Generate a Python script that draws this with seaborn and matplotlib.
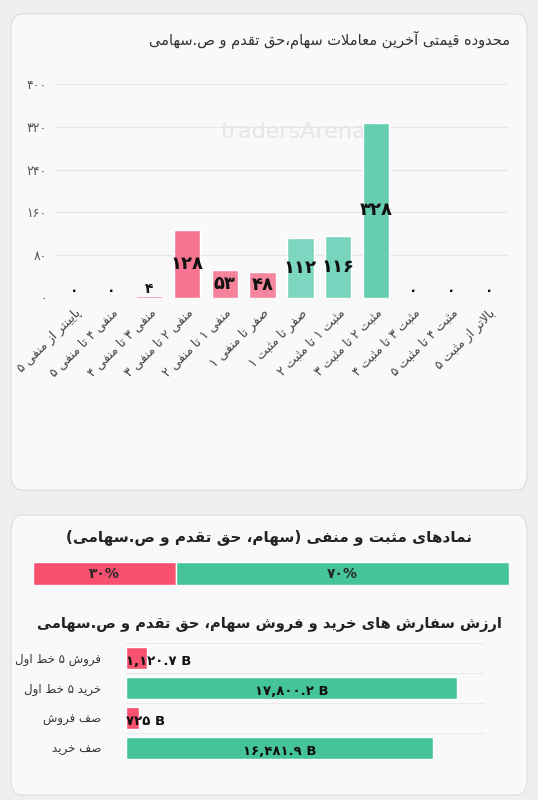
import re
import matplotlib
matplotlib.use("Agg")
import matplotlib.pyplot as plt
from matplotlib.patches import FancyBboxPatch
import seaborn as sns
import pandas as pd

# ---- data ----
range_labels = ["پایینتر از منفی ۵", "منفی ۴ تا منفی ۵", "منفی ۳ تا منفی ۴", "منفی ۲ تا منفی ۳",
                "منفی ۱ تا منفی ۲", "صفر تا منفی ۱", "صفر تا مثبت ۱", "مثبت ۱ تا مثبت ۲",
                "مثبت ۲ تا مثبت ۳", "مثبت ۳ تا مثبت ۴", "مثبت ۴ تا مثبت ۵", "بالاتر از مثبت ۵"]
range_counts = [0, 0, 4, 128, 53, 48, 112, 116, 328, 0, 0, 0]
range_colors = ["#f7728f", "#f7728f", "#f7728f", "#f87591", "#f5839c", "#f5869e",
                "#7dd6bf", "#78d4bc", "#66ceb0", "#66ceb0", "#66ceb0", "#66ceb0"]
y_ticks = [0, 80, 160, 240, 320, 400]

split_labels = ["۳۰%", "۷۰%"]
split_values = [30, 70]

order_labels = ["فروش ۵ خط اول", "خرید ۵ خط اول", "صف فروش", "صف خرید"]
order_values = [1120.7, 17800.2, 725, 16481.9]
order_texts = ["۱,۱۲۰.۷ B", "۱۷,۸۰۰.۲ B", "۷۲۵ B", "۱۶,۴۸۱.۹ B"]
order_colors = ["#f8506f", "#45c49c", "#f8506f", "#45c49c"]

title1 = "محدوده قیمتی آخرین معاملات سهام،حق تقدم و ص.سهامی"
title2 = "نمادهای مثبت و منفی (سهام، حق تقدم و ص.سهامی)"
title3 = "ارزش سفارش های خرید و فروش سهام، حق تقدم و ص.سهامی"

# ---- minimal Persian shaping (matplotlib has no RTL shaping) ----
FORMS = {
    "ا": (0xFE8D, 0xFE8E), "آ": (0xFE81, 0xFE82), "د": (0xFEA9, 0xFEAA), "ذ": (0xFEAB, 0xFEAC),
    "ر": (0xFEAD, 0xFEAE), "ز": (0xFEAF, 0xFEB0), "ژ": (0xFB8A, 0xFB8B), "و": (0xFEED, 0xFEEE),
    "ب": (0xFE8F,), "پ": (0xFB56,), "ت": (0xFE95,), "ث": (0xFE99,), "ج": (0xFE9D,), "چ": (0xFB7A,),
    "ح": (0xFEA1,), "خ": (0xFEA5,), "س": (0xFEB1,), "ش": (0xFEB5,), "ص": (0xFEB9,), "ض": (0xFEBD,),
    "ط": (0xFEC1,), "ظ": (0xFEC5,), "ع": (0xFEC9,), "غ": (0xFECD,), "ف": (0xFED1,), "ق": (0xFED5,),
    "ک": (0xFB8E,), "گ": (0xFB92,), "ل": (0xFEDD,), "م": (0xFEE1,), "ن": (0xFEE5,), "ه": (0xFEE9,),
    "ی": (0xFBFC,),
}


def dual(c):
    return c in FORMS and len(FORMS[c]) == 1


def shape(text):
    out = []
    chars = list(text)
    i = 0
    while i < len(chars):
        c = chars[i]
        if c not in FORMS:
            out.append(c)
            i += 1
            continue
        prev_join = i > 0 and dual(chars[i - 1])
        if c == "ل" and i + 1 < len(chars) and chars[i + 1] == "ا":
            out.append(chr(0xFEFC if prev_join else 0xFEFB))
            i += 2
            continue
        next_join = dual(c) and i + 1 < len(chars) and chars[i + 1] in FORMS
        f = FORMS[c]
        if len(f) == 2:
            out.append(chr(f[1] if prev_join else f[0]))
        else:
            b = f[0]
            if prev_join and next_join:
                out.append(chr(b + 3))
            elif prev_join:
                out.append(chr(b + 1))
            elif next_join:
                out.append(chr(b + 2))
            else:
                out.append(chr(b))
        i += 1
    s = "".join(out)
    parts = re.findall(r"[0-9۰-۹A-Za-z%,]+|.", s)
    mirror = {"(": ")", ")": "("}
    return "".join(mirror.get(p, p) for p in reversed(parts))


def fa_num(n):
    return "".join("۰۱۲۳۴۵۶۷۸۹"[int(d)] for d in str(n))


sns.set_theme(style="white")
plt.rcParams["font.family"] = ["DejaVu Sans"]

fig = plt.figure(figsize=(5.38, 8.0), dpi=100)
fig.patch.set_facecolor("#efefef")
W, H = 538, 800


def fx(px):
    return px / W


def fy(py):
    return 1 - py / H


for top, bottom in [(14, 490), (515, 795)]:
    fig.patches.append(FancyBboxPatch((fx(11), fy(bottom)), fx(516), (bottom - top) / H,
                                      boxstyle="round,pad=0,rounding_size=0.02",
                                      transform=fig.transFigure, facecolor="#f9f9f9",
                                      edgecolor="#dddddd", linewidth=0.8, zorder=-5))

# ---- chart 1 ----
ax1 = fig.add_axes([fx(55), fy(298), fx(453), 214 / H])
df1 = pd.DataFrame({"range": range_labels, "count": range_counts})
sns.barplot(data=df1, x="range", y="count", hue="range", palette=range_colors,
            legend=False, width=0.7, saturation=1, ax=ax1)
ax1.set_facecolor("none")
ax1.set_ylim(0, 400)
ax1.set_yticks(y_ticks)
ax1.set_yticklabels([fa_num(t) for t in y_ticks], fontsize=9, color="#555555")
ax1.set_xticks(range(len(range_labels)))
ax1.set_xticklabels([shape(l) for l in range_labels], rotation=45, ha="right",
                    rotation_mode="anchor", fontsize=9, color="#444444")
ax1.grid(axis="y", color="#e6e6e6", linewidth=0.8)
ax1.set_axisbelow(True)
for s in ax1.spines.values():
    s.set_visible(False)
ax1.set_xlabel("")
ax1.set_ylabel("")
ax1.tick_params(length=0, pad=6)
for i, v in enumerate(range_counts):
    big = v > 40
    ax1.text(i, v / 2 if big else v, fa_num(v), ha="center", va="center" if big else "bottom",
             fontsize=13 if big else 10, fontweight="bold", color="#111111")
ax1.text(0.55, 0.75, "tradersArena.ir", transform=ax1.transAxes, ha="center",
         fontsize=16, color="#e6e6e6", zorder=0)
fig.text(fx(510), fy(40), shape(title1), ha="right", va="center", fontsize=10.5, color="#333333")

# ---- chart 2 ----
ax2 = fig.add_axes([fx(33), fy(585), fx(476), 23 / H])
left = 0
for lbl, v, c in zip(split_labels, split_values, ["#f8506f", "#45c49c"]):
    ax2.barh([0], [v], left=left, color=c, height=1.0)
    ax2.text(left + v / 2, 0, lbl, ha="center", va="center", fontsize=10, fontweight="bold")
    left += v
ax2.set_xlim(0, 100)
ax2.set_ylim(-0.5, 0.5)
ax2.axis("off")
fig.text(0.5, fy(537), shape(title2), ha="center", va="center", fontsize=11, fontweight="bold",
         color="#222222")

# ---- chart 3 ----
ax3 = fig.add_axes([fx(126), fy(763), fx(359), 120 / H])
df3 = pd.DataFrame({"kind": order_labels, "value": order_values})
sns.barplot(data=df3, y="kind", x="value", hue="kind", palette=order_colors, legend=False,
            width=0.72, orient="h", saturation=1, ax=ax3)
ax3.set_facecolor("none")
ax3.set_xlim(0, 19300)
ax3.set_xticks([])
ax3.set_yticks(range(4))
ax3.set_yticklabels([shape(l) for l in order_labels], fontsize=8.5, color="#333333")
ax3.tick_params(length=0, pad=18)
ax3.set_xlabel("")
ax3.set_ylabel("")
for s in ax3.spines.values():
    s.set_visible(False)
for y in [-0.5, 0.5, 1.5, 2.5, 3.5]:
    ax3.axhline(y, color="#eaeaea", linewidth=0.8, zorder=0)
for i, (v, t) in enumerate(zip(order_values, order_texts)):
    big = v > 3000
    ax3.text(v / 2 if big else 0, i + 0.12, t, ha="center" if big else "left", va="center",
             fontsize=9.5, fontweight="bold", color="#111111")
fig.text(0.5, fy(624), shape(title3), ha="center", va="center", fontsize=10.5, fontweight="bold",
         color="#222222")

fig.savefig("out.png", dpi=100, facecolor=fig.get_facecolor())
